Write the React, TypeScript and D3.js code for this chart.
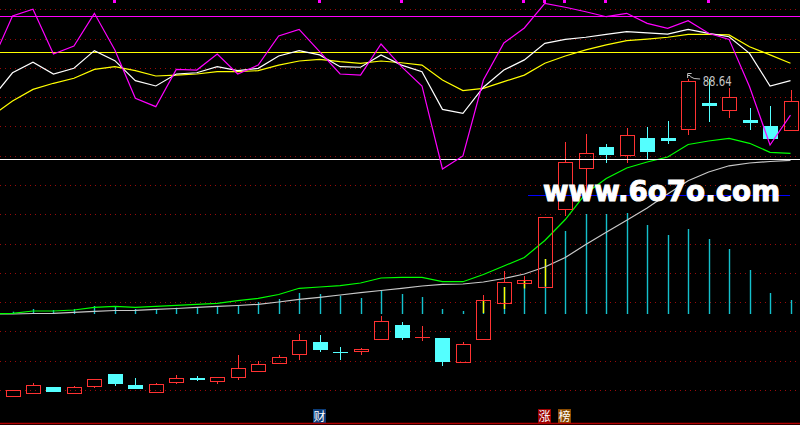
import React from "react";
import * as d3 from "d3";

// ---- price candles (index 0..38) ----
const opens = [25.2, 25.8, 26.94, 25.8, 27.2, 29.54, 27.34, 26.0, 28.0, 28.74, 28.08, 28.88, 30.2, 31.68, 33.6, 35.94, 33.94, 34.08, 36.6, 39.34, 36.88, 36.74, 32.0, 36.6, 43.8, 47.8, 47.0, 62.6, 70.68, 74.88, 73.4, 76.74, 76.74, 78.6, 83.8, 82.4, 80.34, 79.14, 78.28];
const highs = [26.34, 27.68, 26.94, 27.14, 28.48, 29.54, 28.74, 27.68, 29.28, 29.14, 28.88, 33.34, 32.14, 33.28, 37.54, 37.28, 34.88, 34.74, 41.14, 39.94, 39.14, 36.74, 35.94, 45.28, 50.08, 49.14, 60.88, 75.94, 77.54, 75.54, 78.74, 78.94, 80.14, 88.64, 88.48, 86.74, 82.74, 83.14, 86.28];
const lows = [25.0, 25.8, 26.0, 25.8, 26.8, 27.2, 26.6, 26.0, 27.6, 28.2, 27.6, 28.4, 30.2, 31.68, 32.4, 34.0, 32.4, 33.4, 36.4, 36.4, 36.14, 31.2, 32.0, 36.4, 43.8, 47.8, 47.0, 61.14, 65.74, 71.8, 71.8, 72.54, 75.6, 77.4, 79.94, 80.8, 78.34, 76.6, 78.28];
const closes = [26.34, 27.28, 26.0, 26.88, 28.48, 27.6, 26.6, 27.48, 28.68, 28.4, 28.88, 30.68, 31.48, 32.88, 36.28, 34.4, 33.8, 34.54, 40.14, 36.8, 36.88, 32.0, 35.54, 44.28, 47.88, 48.28, 60.88, 71.88, 73.68, 73.4, 77.28, 74.0, 76.2, 88.08, 83.2, 84.94, 79.8, 76.6, 84.08];

// ---- volume (index 0..38) ----
const volumes = [4.6, 10, 8, 10, 16, 14, 10, 10, 12.6, 12.6, 15.4, 17.4, 24, 30, 42, 40, 36.6, 32, 46.6, 40, 34, 10, 6, 28, 54, 66, 110, 166, 200, 200, 202, 178, 158, 170, 150, 130, 88, 42, 28];
// lower (cyan) part of the bar when the top part is yellow
const volLower: (number | null)[] = [null, null, null, null, null, null, null, null, null, null, null, null, null, null, null, null, null, null, null, null, null, null, null, 2, 10, 51, 55, null, null, null, null, null, null, null, null, null, null, null, null];

// ---- overlay lines on volume scale (index -1..38) ----
const lineGreen = [0.6, 1.4, 6, 6, 8, 13.4, 15.4, 13.4, 15.4, 17.4, 19.4, 21.4, 26.6, 31.4, 39, 51.4, 54, 56.6, 62, 72, 73.4, 73.4, 64.6, 64.6, 79, 96, 113, 147, 189, 241, 271, 292, 304, 314, 339, 346, 351.4, 341.4, 323.4, 321.4];
const lineGray = [0, 0, 1, 1.4, 3.4, 5.4, 7, 7.4, 9.4, 11, 13.4, 15.4, 17, 19.4, 24, 29.4, 33.4, 38, 42.6, 47, 51.4, 56, 59.4, 60, 64, 71, 80, 94, 113, 139, 163.4, 187.4, 212, 240, 266.4, 284, 296.4, 302, 305, 307.4];

// ---- KDJ oscillator (index -1..38) ----
const kdjK = [54.0, 68.2, 74.1, 67.5, 70.7, 80.6, 75.0, 63.8, 60.8, 67.5, 68.2, 71.6, 69.4, 70.7, 77.6, 80.6, 78.2, 71.6, 71.3, 78.2, 72.5, 68.8, 47.7, 45.5, 60.1, 69.7, 75.4, 84.7, 86.9, 88.1, 89.7, 91.2, 90.6, 89.9, 92.5, 90.3, 88.4, 79.1, 60.8, 63.8];
const kdjD = [44.1, 52.4, 58.9, 62.3, 65.1, 70.1, 71.6, 69.4, 66.4, 66.9, 67.5, 68.8, 68.8, 69.4, 72.5, 74.8, 75.7, 74.4, 73.5, 74.8, 73.8, 72.5, 64.1, 58.2, 59.5, 63.2, 66.9, 73.5, 77.6, 81.0, 83.8, 86.2, 87.1, 88.1, 89.7, 89.7, 89.4, 82.8, 78.2, 73.5];
const kdjJ = [74.2, 100, 103.8, 78.7, 83.2, 101.5, 81.0, 53.9, 49.2, 70.1, 69.7, 78.7, 67.5, 72.5, 88.8, 92.5, 80.0, 67.5, 66.9, 84.3, 71.6, 60.8, 14.3, 21.6, 64.1, 84.9, 93.3, 107.1, 104.9, 102.4, 99.6, 101.5, 95.9, 93.1, 97.4, 90.3, 86.9, 60.4, 27.7, 44.5];
const oscLevels = [100, 80, 20];
const oscLevelColors = ["#ff00ff", "#ffff00", "#ffffff"];
const signalIdx = [5, 15, 19, 25, 26, 27, 29, 34];

const highLabel = "88.64";
const watermark = "www.6o7o.com";
const tags = [
  { text: "财", idx: 15, bg: "#0c3c78" },
  { text: "涨", idx: 26, bg: "#9a0000" },
  { text: "榜", idx: 27, bg: "#8a4a00" },
];

const W = 800;
const H = 425;
const UP = "#ff3232";
const DOWN = "#54ffff";
const VOL = "#14c0cc";

export default function App() {
  const n = closes.length;
  const x = d3.scaleLinear().domain([0, n - 1]).range([12.5, 790.5]);
  const yP = d3.scaleLinear().domain([20, 90]).range([421.7, 71.7]);
  const yV = d3.scaleLinear().domain([0, 400]).range([314, 114]);
  const yO = d3.scaleLinear().domain([0, 100]).range([194.5, 16]);

  const mk = (scale: d3.ScaleLinear<number, number>) =>
    d3
      .line<number>()
      .x((_, i) => x(i - 1))
      .y((d) => scale(d));

  const gridYs = d3.range(14).map((i) => Math.round(9.3 + i * 29.28) + 0.5);

  const hiIdx = d3.maxIndex(highs);
  const hx = x(hiIdx);
  const hy = yP(highs[hiIdx]);

  return (
    <svg
      width={W}
      height={H}
      style={{ position: "absolute", left: 0, top: 0, display: "block", background: "#000" }}
    >
      <rect x={0} y={0} width={W} height={H} fill="#000" />
      {/* dotted grid */}
      {gridYs.map((gy, i) => (
        <line key={"g" + i} x1={0} x2={W} y1={gy} y2={gy} stroke="#9a0a0a" strokeWidth={1} strokeDasharray="1 4" />
      ))}

      {/* volume bars */}
      {volumes.map((v, i) => {
        const cx = Math.round(x(i)) + 0.5;
        const lo = volLower[i];
        return (
          <g key={"v" + i}>
            <line x1={cx} x2={cx} y1={yV(0)} y2={yV(v)} stroke={VOL} strokeWidth={1.4} />
            {lo !== null && (
              <line x1={cx} x2={cx} y1={yV(lo)} y2={yV(v)} stroke="#ffff00" strokeWidth={1.4} />
            )}
          </g>
        );
      })}

      {/* overlay lines */}
      <path d={mk(yV)(lineGray) || ""} fill="none" stroke="#c8c8c8" strokeWidth={1.2} />
      <path d={mk(yV)(lineGreen) || ""} fill="none" stroke="#00ff00" strokeWidth={1.2} />

      {/* candles */}
      {closes.map((c, i) => {
        const o = opens[i];
        const cx = Math.round(x(i)) + 0.5;
        const up = c >= o;
        const col = up ? UP : DOWN;
        const top = yP(Math.max(o, c));
        const bot = yP(Math.min(o, c));
        const yh = yP(highs[i]);
        const yl = yP(lows[i]);
        const flat = bot - top < 1.2;
        return (
          <g key={"c" + i} shapeRendering="crispEdges">
            {yh < top && <line x1={cx} x2={cx} y1={yh} y2={top} stroke={col} />}
            {yl > bot && <line x1={cx} x2={cx} y1={bot} y2={yl} stroke={col} />}
            {flat ? (
              <line x1={cx - 7.5} x2={cx + 7.5} y1={Math.round(top) + 0.5} y2={Math.round(top) + 0.5} stroke={col} />
            ) : up ? (
              <rect x={cx - 7} y={Math.round(top) + 0.5} width={14} height={Math.round(bot) - Math.round(top)} fill="none" stroke={col} />
            ) : (
              <rect x={cx - 7.5} y={Math.round(top)} width={15} height={Math.max(1, Math.round(bot) - Math.round(top))} fill={col} />
            )}
          </g>
        );
      })}

      {/* high label */}
      <path
        d={`M${hx - 0.5},${hy - 0.5} V${hy - 5} H${hx + 3.5} M${hx - 0.5},${hy - 3} H${hx + 2} M${hx + 2},${hy - 2} L${hx + 6},${hy} L${hx + 12},${hy + 0.5}`}
        fill="none"
        stroke="#c0c0c0"
        strokeWidth={1}
      />
      <text
        x={hx + 14.5}
        y={hy + 7.5}
        fill="#c4c4c4"
        fontSize={14}
        fontFamily="DejaVu Sans, sans-serif"
        textLength={29}
        lengthAdjust="spacingAndGlyphs"
      >
        {highLabel}
      </text>

      {/* oscillator reference lines */}
      {oscLevels.map((lv, i) => (
        <line
          key={"lv" + i}
          x1={0}
          x2={W}
          y1={Math.round(yO(lv)) + 0.5}
          y2={Math.round(yO(lv)) + 0.5}
          stroke={oscLevelColors[i]}
          strokeWidth={1}
        />
      ))}

      {/* oscillator lines */}
      <path d={mk(yO)(kdjD) || ""} fill="none" stroke="#ffff00" strokeWidth={1.2} />
      <path d={mk(yO)(kdjK) || ""} fill="none" stroke="#ffffff" strokeWidth={1.2} />
      <path d={mk(yO)(kdjJ) || ""} fill="none" stroke="#ff00ff" strokeWidth={1.2} />

      {/* signal markers */}
      {signalIdx.map((i) => (
        <rect key={"s" + i} x={Math.round(x(i)) - 2} y={0} width={3} height={3} fill="#ff00ff" />
      ))}

      {/* watermark */}
      <line x1={528} x2={790} y1={195.5} y2={195.5} stroke="#0000ff" strokeWidth={1} />
      <text
        x={543}
        y={201}
        fill="#ffffff"
        stroke="#ffffff"
        strokeWidth={1}
        fontSize={28}
        fontWeight="bold"
        fontFamily="DejaVu Sans, sans-serif"
        textLength={237}
        lengthAdjust="spacingAndGlyphs"
      >
        {watermark}
      </text>

      {/* bottom tags */}
      {tags.map((t, i) => {
        const cx = x(t.idx);
        return (
          <g key={"t" + i}>
            <rect x={Math.round(cx) - 7} y={409} width={13} height={14} fill={t.bg} />
            <text
              x={Math.round(cx) - 0.5}
              y={420.5}
              fill="#ffffff"
              fontSize={12}
              textAnchor="middle"
              fontFamily="Noto Sans CJK SC, sans-serif"
            >
              {t.text}
            </text>
          </g>
        );
      })}

      <line x1={0} x2={W} y1={423.5} y2={423.5} stroke="#b00000" strokeWidth={1.5} />
    </svg>
  );
}
